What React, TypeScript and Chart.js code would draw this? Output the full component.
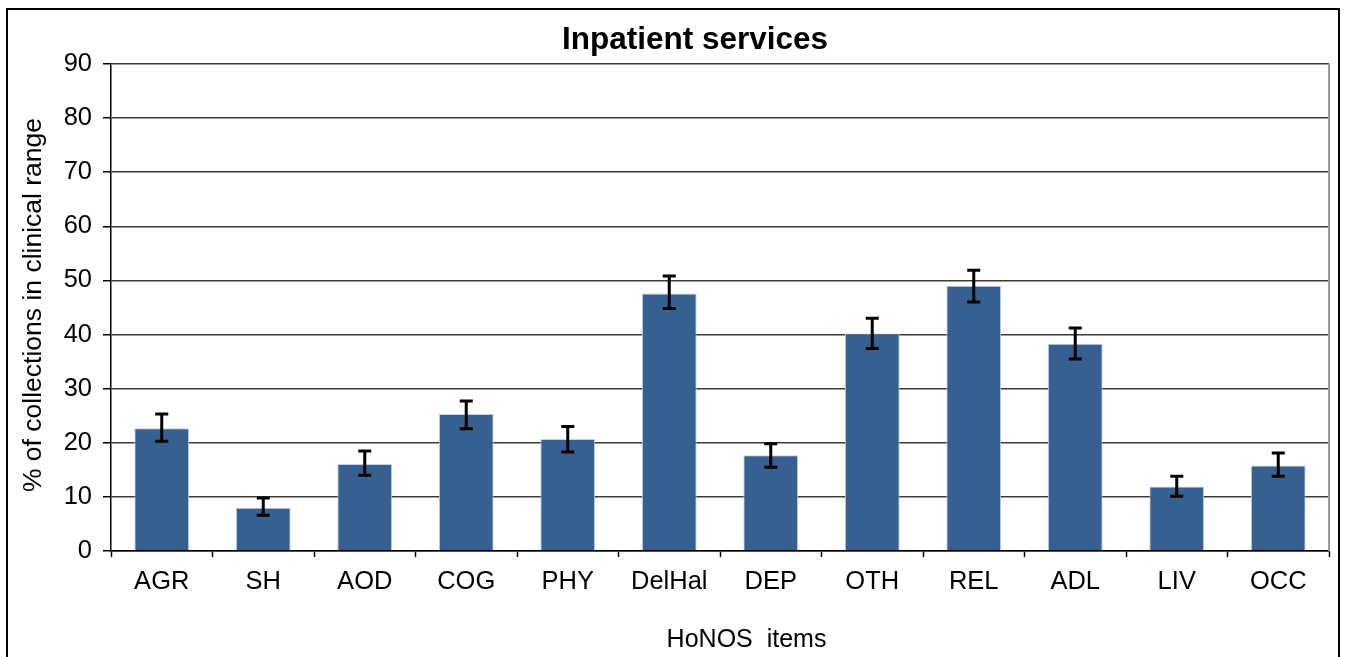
import React, { useEffect, useRef } from "react";
import { Chart, registerables } from "chart.js";

Chart.register(...registerables);

const categories = ["AGR", "SH", "AOD", "COG", "PHY", "DelHal", "DEP", "OTH", "REL", "ADL", "LIV", "OCC"];
const values = [22.7, 8.0, 16.1, 25.3, 20.7, 47.6, 17.7, 40.2, 49.0, 38.3, 11.9, 15.8];
const errLow = [20.3, 6.6, 14.0, 22.6, 18.3, 44.8, 15.5, 37.4, 46.0, 35.5, 10.1, 13.8];
const errHigh = [25.3, 9.8, 18.5, 27.7, 23.0, 50.8, 19.8, 43.0, 51.9, 41.2, 13.8, 18.1];
const yTicks = [0, 10, 20, 30, 40, 50, 60, 70, 80, 90];

const chartTitle = "Inpatient services";
const xTitle = "HoNOS  items";
const yTitle = "% of collections in clinical range";

const FONT = "'Liberation Sans', Arial, sans-serif";

const errorBarPlugin = {
  id: "errorBars",
  afterDatasetsDraw(chart: any) {
    const meta = chart.getDatasetMeta(0);
    const yScale = chart.scales.y;
    const ctx = chart.ctx;
    ctx.save();
    ctx.strokeStyle = "#000";
    ctx.lineWidth = 3;
    meta.data.forEach((bar: any, i: number) => {
      const x = bar.x;
      const yLo = yScale.getPixelForValue(errLow[i]);
      const yHi = yScale.getPixelForValue(errHigh[i]);
      const cap = 6.5;
      ctx.beginPath();
      ctx.moveTo(x, yLo);
      ctx.lineTo(x, yHi);
      ctx.moveTo(x - cap, yLo);
      ctx.lineTo(x + cap, yLo);
      ctx.moveTo(x - cap, yHi);
      ctx.lineTo(x + cap, yHi);
      ctx.stroke();
    });
    ctx.restore();
  },
};

const decorPlugin = {
  id: "decor",
  afterDraw(chart: any) {
    const { ctx, chartArea } = chart;
    ctx.save();
    // right border of plot area
    ctx.strokeStyle = "#9a9a9a";
    ctx.lineWidth = 2;
    ctx.beginPath();
    ctx.moveTo(chartArea.right, chartArea.top);
    ctx.lineTo(chartArea.right, chartArea.bottom);
    ctx.stroke();

    ctx.fillStyle = "#000";
    ctx.textAlign = "center";
    ctx.textBaseline = "alphabetic";
    const mid = (chartArea.left + chartArea.right) / 2;
    // chart title
    ctx.font = `bold 31.5px ${FONT}`;
    ctx.fillText(chartTitle, mid - 25, chartArea.top - 15.5);
    // x title
    ctx.font = `25px ${FONT}`;
    ctx.fillText(xTitle, mid + 26.5, chartArea.bottom + 96);
    // y title
    ctx.save();
    ctx.translate(chartArea.left - 70.5, (chartArea.top + chartArea.bottom) / 2 - 2.5);
    ctx.rotate(-Math.PI / 2);
    ctx.font = `26.5px ${FONT}`;
    ctx.fillText(yTitle, 0, 0);
    ctx.restore();
    ctx.restore();
  },
};

export default function App() {
  const ref = useRef<HTMLCanvasElement | null>(null);

  useEffect(() => {
    if (!ref.current) return;
    const chart = new Chart(ref.current, {
      type: "bar",
      data: {
        labels: categories,
        datasets: [
          {
            data: values,
            backgroundColor: "#36608f",
            borderColor: "#c3d1e4",
            borderWidth: 1,
            barPercentage: 0.54,
            categoryPercentage: 1,
          },
        ],
      },
      options: {
        responsive: false,
        animation: false,
        devicePixelRatio: 1,
        layout: { padding: { left: 0, right: 9, top: 54, bottom: 75 } },
        plugins: {
          legend: { display: false },
          title: { display: false },
          tooltip: { enabled: false },
        },
        scales: {
          x: {
            afterFit: (s: any) => {
              s.height = 60;
            },
            grid: {
              drawOnChartArea: false,
              drawTicks: true,
              tickLength: 6,
              tickColor: "#000",
              tickWidth: 1.5,
              offset: true,
            },
            border: { display: true, color: "#000", width: 1.5 },
            ticks: {
              color: "#000",
              font: { family: FONT, size: 25.5 },
              padding: 10,
              maxRotation: 0,
              autoSkip: false,
            },
          },
          y: {
            min: 0,
            max: 90,
            afterFit: (s: any) => {
              s.width = 103;
            },
            afterBuildTicks: (s: any) => {
              s.ticks = yTicks.map((v) => ({ value: v }));
            },
            grid: {
              color: "#3a3a3a",
              lineWidth: 1.5,
              drawTicks: true,
              tickLength: 8,
              tickColor: "#000",
              tickWidth: 1.5,
            },
            border: { display: true, color: "#000", width: 1.5 },
            ticks: {
              color: "#000",
              font: { family: FONT, size: 25.5 },
              padding: 11,
              stepSize: 10,
            },
          },
        },
      },
      plugins: [errorBarPlugin, decorPlugin],
    });
    return () => chart.destroy();
  }, []);

  return (
    <div
      style={{
        position: "fixed",
        left: 6,
        top: 8,
        width: 1334,
        height: 680,
        border: "2px solid #000",
        boxSizing: "border-box",
        background: "#fff",
      }}
    >
      <canvas ref={ref} width={1330} height={676} style={{ display: "block" }} />
    </div>
  );
}
